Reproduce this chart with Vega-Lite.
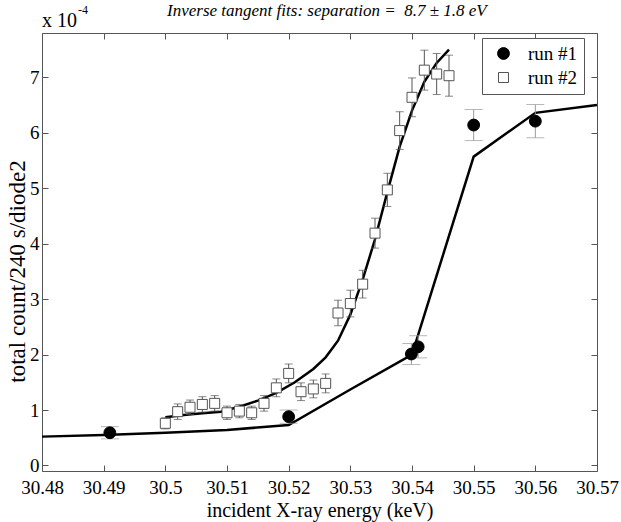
{
  "$schema": "https://vega.github.io/schema/vega-lite/v6.json",
  "width": 555,
  "height": 438,
  "autosize": {"type": "none"},
  "padding": {"left": 42, "top": 33, "right": 24, "bottom": 51},
  "background": "white",
  "config": {
    "font": "Liberation Serif",
    "view": {"stroke": "#555", "strokeWidth": 1},
    "axis": {
      "domain": false,
      "grid": false,
      "tickColor": "#555",
      "tickSize": -6,
      "labelFont": "Liberation Serif",
      "labelFontSize": 19,
      "labelColor": "black",
      "titleFont": "Liberation Serif",
      "titleFontSize": 20,
      "titleFontWeight": "normal",
      "titleColor": "black"
    },
    "legend": {
      "labelFont": "Liberation Serif",
      "labelFontSize": 19,
      "labelColor": "black"
    }
  },
  "datasets": {
    "pts": [
      {"run": "run #1", "x": 30.491, "y": 0.59, "lo": 0.48, "hi": 0.70},
      {"run": "run #1", "x": 30.52, "y": 0.88, "lo": 0.76, "hi": 1.0},
      {"run": "run #1", "x": 30.5399, "y": 2.01, "lo": 1.82, "hi": 2.2},
      {"run": "run #1", "x": 30.541, "y": 2.14, "lo": 1.94, "hi": 2.34},
      {"run": "run #1", "x": 30.55, "y": 6.14, "lo": 5.86, "hi": 6.42},
      {"run": "run #1", "x": 30.56, "y": 6.21, "lo": 5.91, "hi": 6.51},
      {"run": "run #2", "x": 30.5, "y": 0.76, "lo": 0.66, "hi": 0.86},
      {"run": "run #2", "x": 30.502, "y": 0.97, "lo": 0.83, "hi": 1.11},
      {"run": "run #2", "x": 30.504, "y": 1.05, "lo": 0.92, "hi": 1.18},
      {"run": "run #2", "x": 30.506, "y": 1.1, "lo": 0.96, "hi": 1.24},
      {"run": "run #2", "x": 30.508, "y": 1.12, "lo": 0.98, "hi": 1.26},
      {"run": "run #2", "x": 30.51, "y": 0.95, "lo": 0.83, "hi": 1.07},
      {"run": "run #2", "x": 30.512, "y": 0.98, "lo": 0.86, "hi": 1.1},
      {"run": "run #2", "x": 30.514, "y": 0.95, "lo": 0.83, "hi": 1.07},
      {"run": "run #2", "x": 30.516, "y": 1.12, "lo": 0.98, "hi": 1.26},
      {"run": "run #2", "x": 30.518, "y": 1.4, "lo": 1.24, "hi": 1.56},
      {"run": "run #2", "x": 30.52, "y": 1.66, "lo": 1.49, "hi": 1.83},
      {"run": "run #2", "x": 30.522, "y": 1.33, "lo": 1.17, "hi": 1.49},
      {"run": "run #2", "x": 30.524, "y": 1.38, "lo": 1.22, "hi": 1.54},
      {"run": "run #2", "x": 30.526, "y": 1.48, "lo": 1.31, "hi": 1.65},
      {"run": "run #2", "x": 30.528, "y": 2.75, "lo": 2.52, "hi": 2.98},
      {"run": "run #2", "x": 30.53, "y": 2.92, "lo": 2.68, "hi": 3.16},
      {"run": "run #2", "x": 30.532, "y": 3.27, "lo": 3.02, "hi": 3.52},
      {"run": "run #2", "x": 30.534, "y": 4.19, "lo": 3.92, "hi": 4.46},
      {"run": "run #2", "x": 30.536, "y": 4.97, "lo": 4.67, "hi": 5.27},
      {"run": "run #2", "x": 30.538, "y": 6.04, "lo": 5.7, "hi": 6.38},
      {"run": "run #2", "x": 30.54, "y": 6.64, "lo": 6.29, "hi": 6.99},
      {"run": "run #2", "x": 30.542, "y": 7.13, "lo": 6.77, "hi": 7.49},
      {"run": "run #2", "x": 30.544, "y": 7.06, "lo": 6.69, "hi": 7.43},
      {"run": "run #2", "x": 30.546, "y": 7.03, "lo": 6.66, "hi": 7.4}
    ],
    "fit1": [
      {"x": 30.48, "y": 0.52},
      {"x": 30.49, "y": 0.55},
      {"x": 30.5, "y": 0.59},
      {"x": 30.51, "y": 0.64},
      {"x": 30.52, "y": 0.73},
      {"x": 30.53, "y": 1.37},
      {"x": 30.54, "y": 2.0},
      {"x": 30.55, "y": 5.57},
      {"x": 30.56, "y": 6.36},
      {"x": 30.57, "y": 6.5}
    ],
    "fit2": [
      {"x": 30.5, "y": 0.87},
      {"x": 30.503, "y": 0.91},
      {"x": 30.506, "y": 0.94},
      {"x": 30.509, "y": 0.97},
      {"x": 30.512, "y": 1.06},
      {"x": 30.515, "y": 1.17},
      {"x": 30.518, "y": 1.31},
      {"x": 30.521, "y": 1.5},
      {"x": 30.524, "y": 1.74},
      {"x": 30.526, "y": 1.95},
      {"x": 30.528, "y": 2.25},
      {"x": 30.53, "y": 2.72},
      {"x": 30.532, "y": 3.35},
      {"x": 30.534, "y": 4.08},
      {"x": 30.536, "y": 4.93},
      {"x": 30.538, "y": 5.75},
      {"x": 30.54, "y": 6.4},
      {"x": 30.542, "y": 6.92},
      {"x": 30.544, "y": 7.26},
      {"x": 30.546, "y": 7.5}
    ],
    "note": [{"label": "x 10", "exp": "-4", "title": "Inverse tangent fits: separation =\u00a0 8.7 ± 1.8 eV", "tx": 30.5262}]
  },
  "resolve": {"axis": {"x": "independent", "y": "independent"}},
  "layer": [
    {
      "data": {"name": "fit1"},
      "mark": {"type": "line", "color": "black", "strokeWidth": 2.5},
      "encoding": {
        "x": {"field": "x", "type": "quantitative",
          "scale": {"domain": [30.48, 30.57], "nice": false, "zero": false},
          "axis": {"orient": "bottom", "values": [30.48, 30.49, 30.5, 30.51, 30.52, 30.53, 30.54, 30.55, 30.56, 30.57], "format": "~g", "labelPadding": 13, "labelFlush": false, "title": "incident X-ray energy (keV)", "titlePadding": 3}},
        "y": {"field": "y", "type": "quantitative",
          "scale": {"domain": [-0.1, 7.8], "nice": false, "zero": false},
          "axis": {"orient": "left", "values": [0, 1, 2, 3, 4, 5, 6, 7], "format": "d", "labelPadding": 9, "title": "total count/240 s/diode2", "titleFontSize": 23, "titleX": -13, "titleY": 238, "titleBaseline": "bottom", "titleAnchor": null}}
      }
    },
    {
      "data": {"name": "fit2"},
      "mark": {"type": "line", "color": "black", "strokeWidth": 2.5},
      "encoding": {
        "x": {"field": "x", "type": "quantitative",
          "axis": {"orient": "top", "values": [30.48, 30.49, 30.5, 30.51, 30.52, 30.53, 30.54, 30.55, 30.56, 30.57], "labels": false, "title": null}},
        "y": {"field": "y", "type": "quantitative",
          "axis": {"orient": "right", "values": [0, 1, 2, 3, 4, 5, 6, 7], "labels": false, "title": null}}
      }
    },
    {
      "data": {"name": "pts"},
      "transform": [{"filter": "datum.run === 'run #1'"}],
      "layer": [
        {"mark": {"type": "rule", "color": "#999", "strokeWidth": 1},
          "encoding": {"x": {"field": "x", "type": "quantitative", "axis": null}, "y": {"field": "lo", "type": "quantitative", "axis": null}, "y2": {"field": "hi"}}},
        {"mark": {"type": "tick", "orient": "horizontal", "color": "#999", "thickness": 1, "size": 18},
          "encoding": {"x": {"field": "x", "type": "quantitative", "axis": null}, "y": {"field": "lo", "type": "quantitative", "axis": null}}},
        {"mark": {"type": "tick", "orient": "horizontal", "color": "#999", "thickness": 1, "size": 18},
          "encoding": {"x": {"field": "x", "type": "quantitative", "axis": null}, "y": {"field": "hi", "type": "quantitative", "axis": null}}}
      ]
    },
    {
      "data": {"name": "pts"},
      "transform": [{"filter": "datum.run === 'run #2'"}],
      "layer": [
        {"mark": {"type": "rule", "color": "#555", "strokeWidth": 1},
          "encoding": {"x": {"field": "x", "type": "quantitative", "axis": null}, "y": {"field": "lo", "type": "quantitative", "axis": null}, "y2": {"field": "hi"}}},
        {"mark": {"type": "tick", "orient": "horizontal", "color": "#555", "thickness": 1, "size": 8},
          "encoding": {"x": {"field": "x", "type": "quantitative", "axis": null}, "y": {"field": "lo", "type": "quantitative", "axis": null}}},
        {"mark": {"type": "tick", "orient": "horizontal", "color": "#555", "thickness": 1, "size": 8},
          "encoding": {"x": {"field": "x", "type": "quantitative", "axis": null}, "y": {"field": "hi", "type": "quantitative", "axis": null}}}
      ]
    },
    {
      "data": {"name": "pts"},
      "mark": {"type": "point", "strokeWidth": 1, "opacity": 1},
      "encoding": {
        "x": {"field": "x", "type": "quantitative", "axis": null},
        "y": {"field": "y", "type": "quantitative", "axis": null},
        "shape": {"field": "run", "type": "nominal", "scale": {"domain": ["run #1", "run #2"], "range": ["circle", "square"]},
          "legend": {"title": null, "orient": "none", "legendX": 440, "legendY": 5, "strokeColor": "#555", "fillColor": "white", "padding": 6, "symbolOffset": 6, "labelOffset": 15, "rowPadding": 4, "symbolStrokeWidth": 1}},
        "fill": {"field": "run", "type": "nominal", "scale": {"domain": ["run #1", "run #2"], "range": ["black", "white"]}},
        "stroke": {"field": "run", "type": "nominal", "scale": {"domain": ["run #1", "run #2"], "range": ["black", "#555"]}},
        "size": {"field": "run", "type": "nominal", "scale": {"domain": ["run #1", "run #2"], "range": [140, 100]}}
      }
    },
    {
      "data": {"name": "note"},
      "mark": {"type": "text", "align": "left", "baseline": "alphabetic", "fontSize": 20, "font": "Liberation Serif", "color": "black", "dy": -6},
      "encoding": {"text": {"field": "label"}, "x": {"datum": 30.48, "type": "quantitative", "axis": null}, "y": {"datum": 7.8, "type": "quantitative", "axis": null}}
    },
    {
      "data": {"name": "note"},
      "mark": {"type": "text", "align": "left", "baseline": "alphabetic", "fontSize": 12, "font": "Liberation Serif", "color": "black", "dx": 36, "dy": -19},
      "encoding": {"text": {"field": "exp"}, "x": {"datum": 30.48, "type": "quantitative", "axis": null}, "y": {"datum": 7.8, "type": "quantitative", "axis": null}}
    },
    {
      "data": {"name": "note"},
      "mark": {"type": "text", "align": "center", "baseline": "alphabetic", "fontSize": 17, "font": "Liberation Serif", "fontStyle": "italic", "color": "black", "dy": -17},
      "encoding": {"text": {"field": "title"}, "x": {"field": "tx", "type": "quantitative", "axis": null}, "y": {"datum": 7.8, "type": "quantitative", "axis": null}}
    }
  ]
}
